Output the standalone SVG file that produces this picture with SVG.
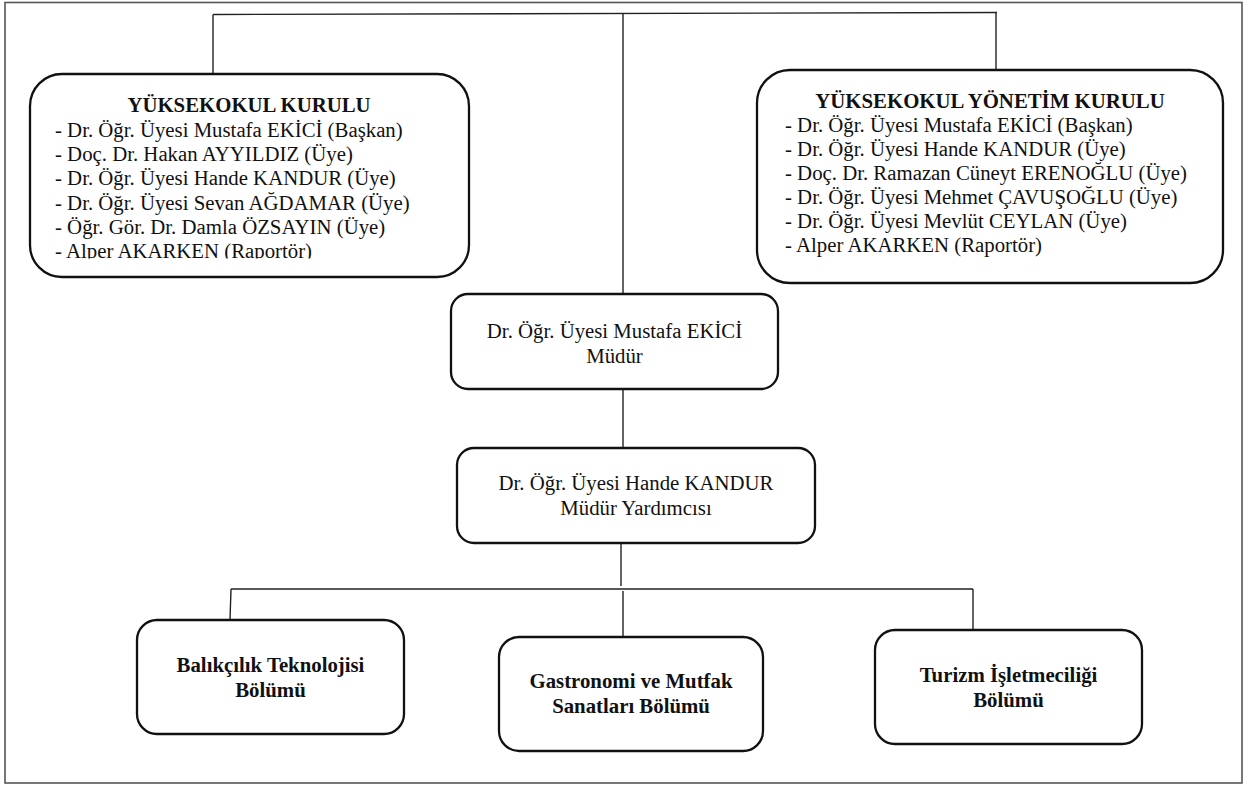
<svg xmlns="http://www.w3.org/2000/svg" width="1248" height="785" viewBox="0 0 1248 785">
<style>
.box{fill:#fff;stroke:#111;stroke-width:2.3}
.con{fill:none;stroke:#222;stroke-width:1.4}
.frame{fill:none;stroke:#555;stroke-width:1.6}
.t{font-family:"Liberation Serif","Times New Roman",serif;font-size:20.8px;fill:#111}
.b{font-family:"Liberation Serif","Times New Roman",serif;font-size:20.8px;font-weight:bold;fill:#111}
.c{text-anchor:middle}
</style>
<defs>
<clipPath id="clipL"><rect x="30" y="74" width="440" height="184.5"/></clipPath>
</defs>
<rect width="1248" height="785" fill="#fff"/>
<rect class="frame" x="5" y="2.5" width="1237" height="780.5"/>
<g id="connectors">
<path class="con" d="M213 14.5 L997 12.5"/>
<path class="con" d="M213 14.5 V74"/>
<path class="con" d="M623 14 V294"/>
<path class="con" d="M996 12.5 V70"/>
<path class="con" d="M623 389 V448"/>
<path class="con" d="M621 543 V586"/>
<path class="con" d="M231 589 H973"/>
<path class="con" d="M231 589 L230 620"/>
<path class="con" d="M623 591 V637"/>
<path class="con" d="M973 589 V630"/>
</g>
<g id="yuksekokul-kurulu">
<rect class="box" x="30" y="74" width="439" height="203" rx="32"/>
<text class="b c" x="249" y="112">YÜKSEKOKUL KURULU</text>
<g clip-path="url(#clipL)">
<text class="t" x="55" y="137">- Dr. Öğr. Üyesi Mustafa EKİCİ (Başkan)</text>
<text class="t" x="55" y="161">- Doç. Dr. Hakan AYYILDIZ (Üye)</text>
<text class="t" x="55" y="185">- Dr. Öğr. Üyesi Hande KANDUR (Üye)</text>
<text class="t" x="55" y="210">- Dr. Öğr. Üyesi Sevan AĞDAMAR (Üye)</text>
<text class="t" x="55" y="234">- Öğr. Gör. Dr. Damla ÖZSAYIN (Üye)</text>
<text class="t" x="55" y="258">- Alper AKARKEN (Raportör)</text>
</g>
</g>
<g id="yonetim-kurulu">
<rect class="box" x="757" y="70" width="466" height="213" rx="33"/>
<text class="b c" x="990" y="108">YÜKSEKOKUL YÖNETİM KURULU</text>
<text class="t" x="785" y="132">- Dr. Öğr. Üyesi Mustafa EKİCİ (Başkan)</text>
<text class="t" x="785" y="156">- Dr. Öğr. Üyesi Hande KANDUR (Üye)</text>
<text class="t" x="785" y="180">- Doç. Dr. Ramazan Cüneyt ERENOĞLU (Üye)</text>
<text class="t" x="785" y="204">- Dr. Öğr. Üyesi Mehmet ÇAVUŞOĞLU (Üye)</text>
<text class="t" x="785" y="228">- Dr. Öğr. Üyesi Mevlüt CEYLAN (Üye)</text>
<text class="t" x="785" y="252">- Alper AKARKEN (Raportör)</text>
</g>
<g id="mudur">
<rect class="box" x="451" y="294" width="327" height="95" rx="17"/>
<text class="t c" x="614.5" y="338">Dr. Öğr. Üyesi Mustafa EKİCİ</text>
<text class="t c" x="614.5" y="363">Müdür</text>
</g>
<g id="mudur-yardimcisi">
<rect class="box" x="457" y="448" width="358" height="95" rx="17"/>
<text class="t c" x="636" y="490">Dr. Öğr. Üyesi Hande KANDUR</text>
<text class="t c" x="636" y="515">Müdür Yardımcısı</text>
</g>
<g id="balikcilik">
<rect class="box" x="137" y="620" width="267" height="114" rx="20"/>
<text class="b c" x="270.5" y="672">Balıkçılık Teknolojisi</text>
<text class="b c" x="270.5" y="697">Bölümü</text>
</g>
<g id="gastronomi">
<rect class="box" x="499" y="637" width="264" height="114" rx="20"/>
<text class="b c" x="631" y="688">Gastronomi ve Mutfak</text>
<text class="b c" x="631" y="713">Sanatları Bölümü</text>
</g>
<g id="turizm">
<rect class="box" x="875" y="630" width="267" height="114" rx="20"/>
<text class="b c" x="1008.5" y="682">Turizm İşletmeciliği</text>
<text class="b c" x="1008.5" y="707">Bölümü</text>
</g>
</svg>
